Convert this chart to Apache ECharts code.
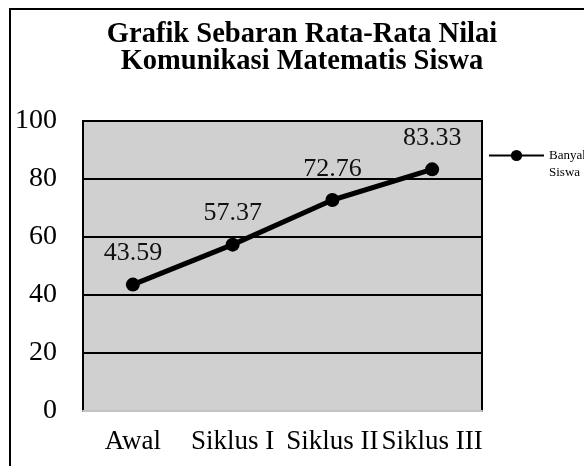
<!DOCTYPE html>
<html>
<head>
<meta charset="utf-8">
<script src="https://cdn.jsdelivr.net/npm/echarts@6/dist/echarts.min.js"></script>
<style>
  html, body { margin: 0; padding: 0; background: #fff; }
  #chart { width: 584px; height: 466px; }
</style>
</head>
<body>
<div id="chart"></div>
<script>
var categories = ['Awal', 'Siklus I', 'Siklus II', 'Siklus III'];
var nilaiRataRata = [43.59, 57.37, 72.76, 83.33];
var seriesName = 'Banyak\nSiswa';
var titleText = 'Grafik Sebaran Rata-Rata Nilai\nKomunikasi Matematis Siswa';

var serif = '"Liberation Serif", "DejaVu Serif", serif';

var chart = echarts.init(document.getElementById('chart'));
chart.setOption({
    animation: false,
    backgroundColor: '#fff',
    title: {
        text: titleText,
        left: 297,
        top: 16,
        textAlign: 'center',
        textStyle: {
            fontFamily: serif,
            fontWeight: 'bold',
            fontSize: 28.5,
            lineHeight: 27,
            color: '#000'
        }
    },
    legend: {
        left: 488,
        top: 130,
        padding: 0,
        itemWidth: 55,
        itemHeight: 14,
        itemGap: 0,
        data: [seriesName],
        formatter: function (name) { return ' \n' + name; },
        textStyle: {
            fontFamily: serif,
            fontSize: 13,
            lineHeight: 17,
            color: '#000'
        }
    },
    grid: {
        left: 83,
        top: 121,
        right: 102,
        bottom: 55,
        show: true,
        backgroundColor: '#d0d0d0',
        borderColor: '#000',
        borderWidth: 2
    },
    xAxis: {
        type: 'category',
        data: categories,
        boundaryGap: true,
        axisLine: { show: true, lineStyle: { color: '#c4c4c4', width: 2 } },
        axisTick: { show: false },
        axisLabel: {
            interval: 0,
            fontFamily: serif,
            fontSize: 27,
            color: '#000',
            margin: 17
        }
    },
    yAxis: {
        type: 'value',
        min: 0,
        max: 100,
        interval: 20,
        axisLine: { show: true, lineStyle: { color: '#000', width: 2 } },
        axisTick: { show: false },
        axisLabel: {
            fontFamily: serif,
            fontSize: 28,
            color: '#000',
            margin: 26
        },
        splitLine: {
            show: true,
            showMinLine: false,
            lineStyle: { color: '#000', width: 2 }
        }
    },
    series: [{
        name: seriesName,
        type: 'line',
        data: nilaiRataRata,
        symbol: 'circle',
        symbolSize: 14,
        lineStyle: { color: '#000', width: 5 },
        itemStyle: { color: '#000' },
        label: {
            show: true,
            position: 'top',
            distance: 11,
            fontFamily: serif,
            fontSize: 26,
            color: '#111',
            formatter: function (p) { return p.value.toFixed(2); }
        }
    }],
    graphic: [{
        type: 'rect',
        shape: { x: 10, y: 9, width: 700, height: 600 },
        style: { fill: null, stroke: '#000', lineWidth: 2 },
        z: 100
    }]
});
</script>
</body>
</html>
